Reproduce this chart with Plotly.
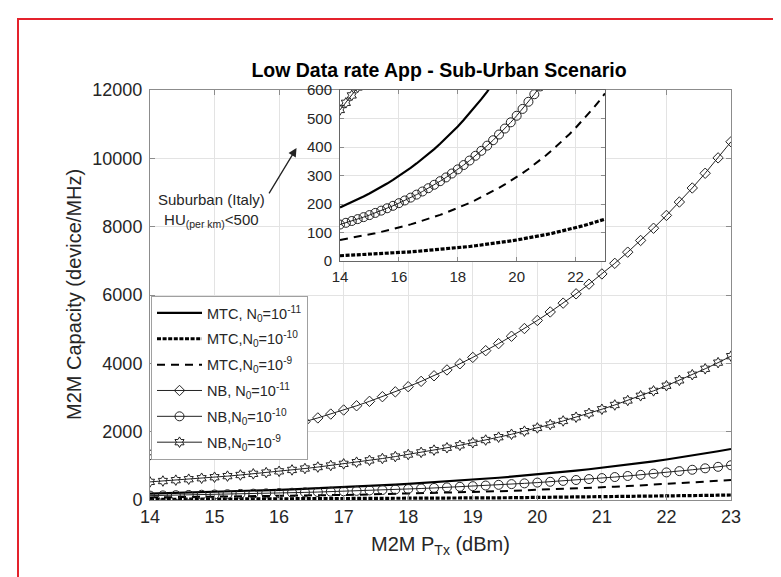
import plotly.graph_objects as go

# ---------------- data ----------------
p_tx_dbm = [14.0, 14.2, 14.4, 14.6, 14.8, 15.0, 15.2, 15.4, 15.6, 15.8,
            16.0, 16.2, 16.4, 16.6, 16.8, 17.0, 17.2, 17.4, 17.6, 17.8,
            18.0, 18.2, 18.4, 18.6, 18.8, 19.0, 19.2, 19.4, 19.6, 19.8,
            20.0, 20.2, 20.4, 20.6, 20.8, 21.0, 21.2, 21.4, 21.6, 21.8,
            22.0, 22.2, 22.4, 22.6, 22.8, 23.0]

mtc_n11 = [188, 196.9, 206.1, 215.9, 226.0, 236.7, 247.8, 259.5, 271.7, 284.6,
           298.0, 312.0, 326.7, 342.1, 358.2, 375.1, 392.8, 411.3, 430.7, 451.0,
           472.2, 494.5, 517.8, 542.2, 567.8, 594.5, 622.5, 651.9, 682.6, 714.8,
           748.4, 783.7, 820.7, 859.3, 899.8, 942.2, 986.6, 1033.1, 1081.8, 1132.8,
           1186.2, 1242.1, 1300.6, 1361.9, 1426.1, 1493.3]

mtc_n10 = [18.5, 19.4, 20.3, 21.2, 22.2, 23.3, 24.4, 25.5, 26.7, 28.0,
           29.3, 30.7, 32.1, 33.7, 35.3, 36.9, 38.7, 40.5, 42.4, 44.4,
           46.5, 48.7, 51.0, 53.4, 55.9, 58.5, 61.3, 64.1, 67.2, 70.3,
           73.7, 77.1, 80.8, 84.6, 88.5, 92.7, 97.1, 101.7, 106.5, 111.5,
           116.7, 122.2, 128.0, 134.0, 140.3, 147.0]

mtc_n9 = [74, 77.5, 81.1, 85.0, 89.0, 93.2, 97.6, 102.1, 107.0, 112.0,
          117.3, 122.8, 128.6, 134.7, 141.0, 147.7, 154.6, 161.9, 169.5, 177.5,
          185.9, 194.6, 203.8, 213.4, 223.5, 234.0, 245.0, 256.6, 268.7, 281.3,
          294.6, 308.5, 323.0, 338.2, 354.2, 370.9, 388.4, 406.7, 425.8, 445.9,
          466.9, 488.9, 512.0, 536.1, 561.3, 587.8]

nb_n11 = [1320, 1382, 1447, 1516, 1587, 1662, 1740, 1822, 1908, 1998,
          2092, 2191, 2294, 2402, 2515, 2634, 2758, 2888, 3024, 3166,
          3316, 3472, 3636, 3807, 3986, 4174, 4371, 4577, 4793, 5019,
          5255, 5503, 5762, 6034, 6318, 6616, 6927, 7254, 7596, 7954,
          8329, 8721, 9132, 9563, 10013, 10485]

nb_n10 = [128, 134.0, 140.4, 147.0, 153.9, 161.1, 168.7, 176.7, 185.0, 193.7,
          202.9, 212.4, 222.4, 232.9, 243.9, 255.4, 267.4, 280.0, 293.2, 307.0,
          321.5, 336.7, 352.5, 369.2, 386.6, 404.8, 423.8, 443.8, 464.7, 486.6,
          509.6, 533.6, 558.7, 585.1, 612.6, 641.5, 671.8, 703.4, 736.6, 771.3,
          807.6, 845.7, 885.5, 927.3, 971.0, 1016.7]

nb_n9 = [530, 555, 581, 609, 637, 667, 699, 732, 766, 802,
         840, 880, 921, 964, 1010, 1058, 1107, 1160, 1214, 1271,
         1331, 1394, 1460, 1529, 1601, 1676, 1755, 1838, 1924, 2015,
         2110, 2209, 2314, 2423, 2537, 2656, 2781, 2913, 3050, 3194,
         3344, 3502, 3667, 3840, 4020, 4210]

series_names = [
    "MTC, N<sub>0</sub>=10<sup>-11</sup>",
    "MTC,N<sub>0</sub>=10<sup>-10</sup>",
    "MTC,N<sub>0</sub>=10<sup>-9</sup>",
    "NB, N<sub>0</sub>=10<sup>-11</sup>",
    "NB,N<sub>0</sub>=10<sup>-10</sup>",
    "NB,N<sub>0</sub>=10<sup>-9</sup>",
]

main_xticks = [14, 15, 16, 17, 18, 19, 20, 21, 22, 23]
main_yticks = [0, 2000, 4000, 6000, 8000, 10000, 12000]
inset_xticks = [14, 16, 18, 20, 22]
inset_yticks = [0, 100, 200, 300, 400, 500, 600]

# ---------------- styles ----------------
FONT = "Liberation Sans, Arial, Helvetica, sans-serif"
TXT = "#262626"
AX = "#8c8c8c"
GRID = "#e3e3e3"

styles = [
    dict(mode="lines", line=dict(color="black", width=2.2)),
    dict(mode="lines", line=dict(color="black", width=3.2, dash="4px,1.6px")),
    dict(mode="lines", line=dict(color="black", width=2, dash="8px,6px")),
    dict(mode="lines+markers", line=dict(color="#222", width=1),
         marker=dict(symbol="diamond-open", size=8, color="#222", line=dict(width=1))),
    dict(mode="lines+markers", line=dict(color="#222", width=1),
         marker=dict(symbol="circle-open", size=9, color="#222", line=dict(width=1))),
    dict(mode="lines+markers", line=dict(color="#222", width=1),
         marker=dict(symbol="hexagram-open", size=8, color="#222", line=dict(width=1))),
]
all_series = [mtc_n11, mtc_n10, mtc_n9, nb_n11, nb_n10, nb_n9]

fig = go.Figure()
for i, (name, ys, st) in enumerate(zip(series_names, all_series, styles)):
    fig.add_trace(go.Scatter(x=p_tx_dbm, y=ys, name=name, xaxis="x", yaxis="y",
                             legendgroup=f"g{i}", **st))
for name, ys, st in zip(series_names, all_series, styles):
    fig.add_trace(go.Scatter(x=p_tx_dbm, y=ys, name=name, xaxis="x2", yaxis="y2",
                             showlegend=False, **st))

# plot area in pixels: x 142..723, y 82..492
W, H = 781, 577
L, R, T, B = 142, 58, 82, 85
pw, ph = W - L - R, H - T - B


def px_x(px):
    return (px - L) / pw


def px_y(py):
    return (H - B - py) / ph


axis_common = dict(showline=True, linecolor=AX, linewidth=1, mirror="ticks",
                   ticks="inside", tickcolor=AX, ticklen=5, showgrid=True,
                   gridcolor=GRID, gridwidth=1, zeroline=False, tickformat="d",
                   tickfont=dict(family=FONT, size=18, color=TXT))
inset_common = {**axis_common, "tickfont": dict(family=FONT, size=15, color=TXT),
                "ticklen": 4, "linecolor": "#666666"}

fig.update_layout(
    width=W, height=H,
    margin=dict(l=L, r=R, t=T, b=B),
    paper_bgcolor="white", plot_bgcolor="white",
    font=dict(family=FONT, color=TXT),
    xaxis=dict(range=[14, 23], tickvals=main_xticks, domain=[0, 1], anchor="y",
               **axis_common),
    yaxis=dict(range=[0, 12000], tickvals=main_yticks, domain=[0, 1], anchor="x",
               ticklabelstandoff=3, **axis_common),
    xaxis2=dict(range=[14, 23], tickvals=inset_xticks,
                domain=[px_x(332), px_x(597)], anchor="y2", ticklabelstandoff=2,
                **inset_common),
    yaxis2=dict(range=[0, 600], tickvals=inset_yticks,
                domain=[px_y(253), px_y(82)], anchor="x2", ticklabelstandoff=4,
                **inset_common),
    showlegend=True,
    legend=dict(x=px_x(143), y=px_y(288), xanchor="left", yanchor="top",
                bgcolor="white", bordercolor="#a0a0a0", borderwidth=1,
                font=dict(family=FONT, size=14.5, color=TXT), tracegroupgap=4,
                itemwidth=45, traceorder="grouped"),
    title=dict(text="<b>Low Data rate App - Sub-Urban Scenario</b>",
               font=dict(family=FONT, size=19.5, color="black"),
               x=px_x(431), xref="paper", xanchor="center",
               y=1 - 62 / H, yref="container", yanchor="middle"),
)

fig.add_annotation(xref="paper", yref="paper", x=px_x(432), y=px_y(537),
                   text="M2M P<sub>Tx</sub> (dBm)", showarrow=False,
                   font=dict(family=FONT, size=20, color=TXT),
                   xanchor="center", yanchor="middle")
fig.add_annotation(xref="paper", yref="paper", x=px_x(66), y=px_y(287),
                   text="M2M Capacity (device/MHz)", showarrow=False, textangle=-90,
                   font=dict(family=FONT, size=20, color=TXT),
                   xanchor="center", yanchor="middle")
fig.add_annotation(xref="x", yref="y", x=14.96, y=8480,
                   text="Suburban (Italy)<br>HU<sub>(per km)</sub>&lt;500",
                   showarrow=False, font=dict(family=FONT, size=15, color=TXT),
                   xanchor="center", yanchor="middle")
fig.add_annotation(xref="x", yref="y", x=16.27, y=10300, ax=15.83, ay=8930,
                   axref="x", ayref="y", text="", showarrow=True,
                   arrowhead=2, arrowsize=1.3, arrowwidth=1.3, arrowcolor="#222",
                   standoff=0, startstandoff=0)

fig.add_shape(type="rect", xref="paper", yref="paper",
              x0=px_x(10), x1=px_x(776.5), y0=px_y(585), y1=px_y(11),
              line=dict(color="#e4222c", width=2), layer="above")

fig.write_html("out.html")
